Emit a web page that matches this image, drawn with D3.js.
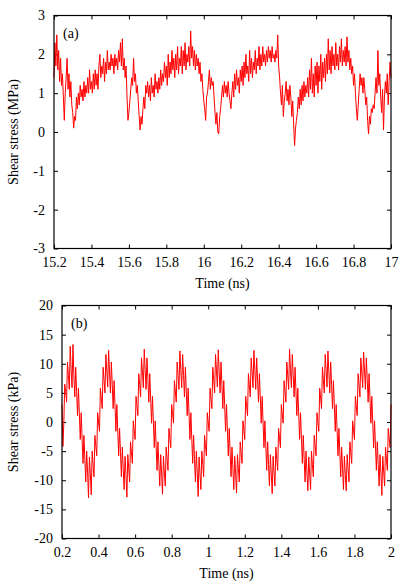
<!DOCTYPE html>
<html>
<head>
<meta charset="utf-8">
<script src="https://cdn.jsdelivr.net/npm/d3@7"></script>
<style>
  body { margin: 0; background: #fff; }
  text { font-family: "Liberation Serif", "Times New Roman", serif; }
</style>
</head>
<body>
<div id="vis"></div>
<script>
let startA = 15.2, stepA = 0.005
let stressA = [
  1.4, 2.3, 1.7, 2.5, 1.6, 2.1, 1.3, 1.9, 1.2, 1.5,
  0.9, 0.3, 1.0, 1.4, 1.9, 1.1, 1.5, 0.9, 1.3, 0.7,
  0.5, 0.1, 0.4, 0.3, 0.9, 0.6, 1.0, 0.7, 1.2, 0.9,
  1.1, 0.8, 1.3, 0.9, 1.2, 1.0, 1.4, 1.0, 1.6, 1.1,
  1.3, 1.0, 1.5, 1.1, 1.6, 1.2, 1.5, 1.1, 1.7, 2.0,
  1.4, 1.7, 1.5, 1.9, 1.3, 1.8, 1.5, 2.1, 1.6, 1.8,
  1.6, 2.0, 1.7, 1.9, 1.5, 2.0, 1.7, 1.9, 1.6, 2.1,
  1.8, 2.3, 1.7, 2.4, 1.6, 1.9, 1.4, 1.7, 0.9, 0.3,
  0.5, 0.8, 1.1, 1.4, 1.2, 1.9, 1.3, 1.5, 1.0, 1.2,
  0.8, 0.4, 0.05, 0.4, 0.2, 0.6, 0.9, 0.6, 1.2, 1.0,
  1.3, 0.9, 1.2, 0.8, 1.4, 1.0, 1.2, 0.9, 1.5, 1.1,
  1.3, 1.0, 1.4, 1.1, 1.6, 1.2, 1.5, 1.3, 1.8, 1.4,
  1.7, 1.2, 2.0, 1.4, 1.8, 1.5, 2.1, 1.6, 1.9, 1.4,
  2.0, 1.6, 2.2, 1.5, 1.9, 1.7, 2.2, 1.5, 2.1, 1.7,
  2.3, 1.6, 2.0, 1.8, 2.2, 1.7, 2.6, 1.9, 2.2, 1.7,
  2.1, 1.6, 2.0, 1.7, 1.9, 1.5, 1.8, 1.3, 1.5, 1.1,
  0.8, 0.6, 0.3, 0.9, 1.0, 1.3, 1.6, 1.1, 1.4, 1.2,
  1.3, 0.9, 0.5, 0.2, 0.5, 0.0, -0.05, 0.4, 0.6, 0.9,
  1.2, 0.9, 1.3, 1.0, 1.2, 0.9, 1.3, 1.0, 0.8, 0.6,
  1.0, 1.3, 0.9, 1.5, 1.1, 1.6, 1.2, 1.4, 1.0, 1.6,
  1.3, 1.7, 1.2, 1.8, 1.4, 2.0, 1.5, 1.7, 1.3, 2.1,
  1.5, 1.9, 1.4, 1.8, 1.6, 2.1, 1.5, 1.9, 1.7, 2.2,
  1.6, 2.0, 1.7, 2.2, 1.8, 2.0, 1.7, 2.1, 1.8, 2.2,
  1.9, 2.1, 1.8, 2.2, 1.9, 2.0, 1.8, 2.1, 1.9, 2.5,
  1.7, 1.4, 1.0, 0.7, 1.2, 0.4, 0.8, 1.0, 1.3, 0.8,
  1.1, 0.7, 1.2, 0.9, 0.4, 0.8, 0.2, -0.35, 0.1, 0.3,
  0.5, 0.9, 0.6, 1.1, 0.7, 1.2, 0.8, 1.3, 0.9, 1.2,
  1.0, 1.4, 0.9, 1.6, 1.1, 1.9, 1.0, 1.5, 0.9, 1.7,
  1.2, 1.8, 1.0, 1.7, 1.3, 2.0, 1.1, 1.8, 1.4, 1.9,
  1.3, 2.0, 1.5, 2.4, 1.6, 2.1, 1.5, 2.2, 1.7, 2.0,
  1.6, 2.3, 1.7, 2.0, 1.6, 2.2, 1.8, 2.4, 1.7, 2.1,
  1.8, 2.2, 1.7, 2.45, 1.8, 2.1, 1.6, 1.9, 1.5, 1.7,
  1.2, 1.5, 1.0, 0.6, 0.3, 0.7, 1.1, 1.5, 1.2, 1.4,
  1.0, 1.4, 1.1, 0.7, 0.9, 0.3, -0.05, 0.4, 0.2, 0.6,
  0.5, 0.7, 0.6, 1.0, 1.4, 1.0, 2.1, 1.2, 1.5, 0.9,
  0.5, 1.1, 0.05, 0.9, 1.3, 1.0, 1.5, 0.7, 1.3, 1.8,
  1.4
]

let startB = 0.2, stepB = 0.005
let stressB = [
  3.0, -4.2, -0.2, 6.5, 5.3, 3.4, 10.3, 8.0, 5.6, 13.0,
  9.0, 5.9, 13.3, 8.0, 4.3, 9.4, 5.3, 1.1, 5.8, 1.4,
  -3.0, 1.6, -2.8, -7.1, -2.3, -6.4, -10.3, -5.0, -8.6, -13.0,
  -6.0, -8.9, -12.5, -5.0, -7.3, -9.4, -2.3, -4.1, -5.8, 1.6,
  0.0, -1.6, 5.8, 4.1, 2.3, 9.4, 7.3, 5.0, 11.6, 8.9,
  6.0, 12.3, 8.6, 5.0, 10.3, 6.4, 2.3, 7.1, 2.8, -1.6,
  3.0, -1.4, -5.8, -1.1, -5.3, -9.4, -4.3, -8.0, -11.6, -5.9,
  -9.0, -12.9, -5.6, -8.0, -10.3, -3.4, -5.3, -7.1, 0.2, -1.4,
  -3.0, 4.4, 2.8, 1.1, 8.3, 6.4, 4.3, 11.0, 8.6, 5.9,
  12.5, 8.9, 5.6, 11.0, 7.3, 3.4, 8.3, 4.1, -0.2, 4.4,
  0.0, -4.4, 0.2, -4.1, -8.3, -3.4, -7.3, -11.0, -5.6, -8.9,
  -12.4, -5.9, -8.6, -11.0, -4.3, -6.4, -8.3, -1.1, -2.8, -4.4,
  3.0, 1.4, -0.2, 7.1, 5.3, 3.4, 10.3, 8.0, 5.6, 12.2,
  9.0, 5.9, 11.6, 8.0, 4.3, 9.4, 5.3, 1.1, 5.8, 1.4,
  -3.0, 1.6, -2.8, -7.1, -2.3, -6.4, -10.3, -5.0, -8.6, -12.8,
  -6.0, -8.9, -11.6, -5.0, -7.3, -9.4, -2.3, -4.1, -5.8, 1.6,
  0.0, -1.6, 5.8, 4.1, 2.3, 9.4, 7.3, 5.0, 11.6, 8.9,
  6.0, 12.4, 8.6, 5.0, 10.3, 6.4, 2.3, 7.1, 2.8, -1.6,
  3.0, -1.4, -5.8, -1.1, -5.3, -9.4, -4.3, -8.0, -11.6, -5.9,
  -9.0, -12.2, -5.6, -8.0, -10.3, -3.4, -5.3, -7.1, 0.2, -1.4,
  -3.0, 4.4, 2.8, 1.1, 8.3, 6.4, 4.3, 11.0, 8.6, 5.9,
  12.3, 8.9, 5.6, 11.0, 7.3, 3.4, 8.3, 4.1, -0.2, 4.4,
  0.0, -4.4, 0.2, -4.1, -8.3, -3.4, -7.3, -11.0, -5.6, -8.9,
  -12.3, -5.9, -8.6, -11.0, -4.3, -6.4, -8.3, -1.1, -2.8, -4.4,
  3.0, 1.4, -0.2, 7.1, 5.3, 3.4, 10.3, 8.0, 5.6, 12.5,
  9.0, 5.9, 11.6, 8.0, 4.3, 9.4, 5.3, 1.1, 5.8, 1.4,
  -3.0, 1.6, -2.8, -7.1, -2.3, -6.4, -10.3, -5.0, -8.6, -11.8,
  -6.0, -8.9, -11.6, -5.0, -7.3, -9.4, -2.3, -4.1, -5.8, 1.6,
  0.0, -1.6, 5.8, 4.1, 2.3, 9.4, 7.3, 5.0, 11.6, 8.9,
  6.0, 12.2, 8.6, 5.0, 10.3, 6.4, 2.3, 7.1, 2.8, -1.6,
  3.0, -1.4, -5.8, -1.1, -5.3, -9.4, -4.3, -8.0, -11.6, -5.9,
  -9.0, -11.8, -5.6, -8.0, -10.3, -3.4, -5.3, -7.1, 0.2, -1.4,
  -3.0, 4.4, 2.8, 1.1, 8.3, 6.4, 4.3, 11.0, 8.6, 5.9,
  12.0, 8.9, 5.6, 11.0, 7.3, 3.4, 8.3, 4.1, -0.2, 4.4,
  0.0, -4.4, 0.2, -4.1, -8.3, -3.4, -7.3, -11.0, -5.6, -8.9,
  -12.6, -5.9, -8.6, -11.0, -4.3, -6.4, -8.3, -1.1, -2.8, -4.4,
  3.0
]

let ticksXA = [15.2, 15.4, 15.6, 15.8, 16, 16.2, 16.4, 16.6, 16.8, 17]
let ticksYA = [-3, -2, -1, 0, 1, 2, 3]
let ticksXB = [0.2, 0.4, 0.6, 0.8, 1, 1.2, 1.4, 1.6, 1.8, 2]
let ticksYB = [-20, -15, -10, -5, 0, 5, 10, 15, 20]

let W = 415, H = 581

let svg = d3.select('#vis')
  .append('svg')
  .attr('width', W)
  .attr('height', H)
  .attr('viewBox', [0, 0, W, H].join(' '))

function panel(opt) {
  let x = d3.scaleLinear().domain(opt.xDomain).range([opt.left, opt.right])
  let y = d3.scaleLinear().domain(opt.yDomain).range([opt.bottom, opt.top])
  let g = svg.append('g')
  let fmt = d => String(+d.toFixed(1))

  // bottom axis with labels, ticks point inward
  let bottomAx = g.append('g')
    .attr('transform', `translate(0,${opt.bottom})`)
    .call(d3.axisBottom(x).tickValues(opt.xTicks).tickFormat(fmt).tickSizeInner(-4).tickSizeOuter(0).tickPadding(9))
  let topAx = g.append('g')
    .attr('transform', `translate(0,${opt.top})`)
    .call(d3.axisTop(x).tickValues(opt.xTicks).tickFormat('').tickSizeInner(-4).tickSizeOuter(0))
  let leftAx = g.append('g')
    .attr('transform', `translate(${opt.left},0)`)
    .call(d3.axisLeft(y).tickValues(opt.yTicks).tickFormat(d3.format('d')).tickSizeInner(-4).tickSizeOuter(0).tickPadding(9))
  let rightAx = g.append('g')
    .attr('transform', `translate(${opt.right},0)`)
    .call(d3.axisRight(y).tickValues(opt.yTicks).tickFormat('').tickSizeInner(-4).tickSizeOuter(0))

  g.selectAll('.domain').remove()
  g.selectAll('.tick line').attr('stroke', '#000').attr('stroke-width', 1)
  g.selectAll('.tick text')
    .attr('fill', '#000')
    .style('font-size', '14px')
    .style('font-family', '"Liberation Serif", serif')
  leftAx.selectAll('.tick text').text(d => d < 0 ? '-' + Math.abs(d) : d)

  let line = d3.line()
    .x((d, i) => x(opt.start + i * opt.step))
    .y(d => y(d))

  g.append('path')
    .datum(opt.values)
    .attr('fill', 'none')
    .attr('stroke', '#ff0000')
    .attr('stroke-width', 1)
    .attr('stroke-linejoin', 'round')
    .attr('d', line)

  g.append('rect')
    .attr('x', opt.left)
    .attr('y', opt.top)
    .attr('width', opt.right - opt.left)
    .attr('height', opt.bottom - opt.top)
    .attr('fill', 'none')
    .attr('stroke', '#000')
    .attr('stroke-width', 1.2)

  g.append('text')
    .attr('x', (opt.left + opt.right) / 2)
    .attr('y', opt.bottom + 39)
    .attr('text-anchor', 'middle')
    .style('font-size', '14px')
    .text('Time (ns)')

  g.append('text')
    .attr('transform', `translate(18,${(opt.top + opt.bottom) / 2}) rotate(-90)`)
    .attr('text-anchor', 'middle')
    .style('font-size', '14px')
    .text(opt.yTitle)

  g.append('text')
    .attr('x', opt.left + opt.tagDx)
    .attr('y', opt.top + 22)
    .style('font-size', '14px')
    .text(opt.tag)
}

panel({
  xDomain: [15.2, 17], yDomain: [-3, 3],
  left: 54, right: 391, top: 15.5, bottom: 248.5,
  xTicks: ticksXA, yTicks: ticksYA,
  start: startA, step: stepA, values: stressA,
  yTitle: 'Shear stress (MPa)', tag: '(a)', tagDx: 9
})

panel({
  xDomain: [0.2, 2], yDomain: [-20, 20],
  left: 62, right: 391, top: 305.5, bottom: 538.5,
  xTicks: ticksXB, yTicks: ticksYB,
  start: startB, step: stepB, values: stressB,
  yTitle: 'Shear stress (kPa)', tag: '(b)', tagDx: 9
})
</script>
</body>
</html>
